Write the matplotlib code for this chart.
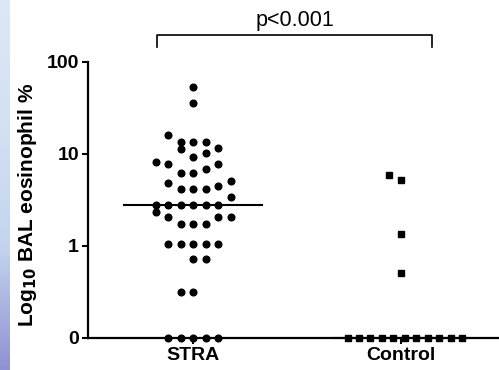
import numpy as np
import matplotlib
matplotlib.use('Agg')
import matplotlib.pyplot as plt

plt.rcParams['font.family'] = ['Liberation Sans', 'DejaVu Sans']

# data (BAL eosinophil %, zero values sit on the axis floor)
groups = ['STRA', 'Control']
stra_vals = [52.6, 35.6, 16.1, 13.4, 13.4, 13.4, 11.2, 11.5, 9.3, 10.3,
             8.2, 7.8, 7.8, 6.1, 6.1, 6.9, 4.8, 5.1, 4.1, 4.1, 4.1, 4.4, 3.4,
             2.74, 2.74, 2.74, 2.74, 2.74, 2.74, 2.3, 2.07, 2.07, 2.07,
             1.73, 1.73, 1.73, 1.04, 1.04, 1.04, 1.04, 1.04, 0.72, 0.72,
             0.31, 0.31, 0, 0, 0, 0, 0]
stra_slot = [0, 0, -2, -1, 0, 1, -1, 2, 0, 1,
             -3, -2, 2, -1, 0, 1, -2, 3, -1, 0, 1, 2, 3,
             -3, -2, -1, 0, 1, 2, -3, -2, 2, 3,
             -1, 0, 1, -2, -1, 0, 1, 2, 0, 1,
             -1, 0, -2, -1, 0, 1, 2]
ctrl_vals = [5.9, 5.2, 1.34, 0.51] + [0] * 11
ctrl_slot = [-1, 0, 0, 0] + list(np.arange(11) * 0.92 - 4.3)
p_text = 'p<0.001'

FLOOR = 0.1
SLOT = 0.06

fig = plt.figure(figsize=(4.99, 3.70), dpi=100)

# slide background strip on the left edge
bg = fig.add_axes([0, 0, 0.02, 1])
grad = np.linspace(0, 1, 256).reshape(-1, 1)
cmap = matplotlib.colors.LinearSegmentedColormap.from_list(
    'slide', ['#dbe8f6', '#d2e1f3', '#c4d4ee', '#8e92d2'])
bg.imshow(grad, aspect='auto', cmap=cmap, extent=[0, 1, 0, 1])
bg.axis('off')

ax = fig.add_axes([0.1764, 0.0873, 0.8236, 0.746])
ax.set_yscale('log')

def plot_group(pos, vals, slots, marker, ms):
    v = np.array(vals, dtype=float)
    y = np.where(v > 0, v, FLOOR)
    x = pos + np.array(slots) * SLOT
    ax.plot(x, y, linestyle='none', marker=marker, ms=ms, color='black',
            clip_on=False, zorder=5)
    med = np.median(v)
    ax.plot([pos - 0.33, pos + 0.33], [max(med, FLOOR)] * 2, color='black',
            lw=1.5, clip_on=False, zorder=4)

plot_group(1, stra_vals, stra_slot, 'o', 4.8)
plot_group(2, ctrl_vals, ctrl_slot, 's', 4.3)

ax.set_xlim(0.495, 2.47)
ax.set_ylim(FLOOR, 100)
ax.set_xticks([1, 2])
ax.set_xticklabels(groups, fontsize=14, fontweight='bold')
ax.set_yticks([0.1, 1, 10, 100])
ax.set_yticklabels(['0', '1', '10', '100'], fontsize=14, fontweight='bold')
ax.yaxis.set_minor_locator(matplotlib.ticker.NullLocator())
ax.tick_params(width=1.5, length=4.5, pad=2)

for s in ['top', 'right']:
    ax.spines[s].set_visible(False)
for s in ['left', 'bottom']:
    ax.spines[s].set_linewidth(1.6)

ax.set_ylabel(r'Log$_{\mathbf{10}}$ BAL eosinophil %', fontsize=15,
              fontweight='bold')
ax.yaxis.set_label_coords(-0.12, 0.48)

# significance bracket
ax.plot([0.828, 0.828, 2.15, 2.15], [143, 193, 193, 143], color='black',
        lw=1.2, clip_on=False)
ax.text((0.828 + 2.15) / 2, 213, p_text, ha='center', va='bottom',
        fontsize=15.5)

fig.savefig('out.png', dpi=100)
